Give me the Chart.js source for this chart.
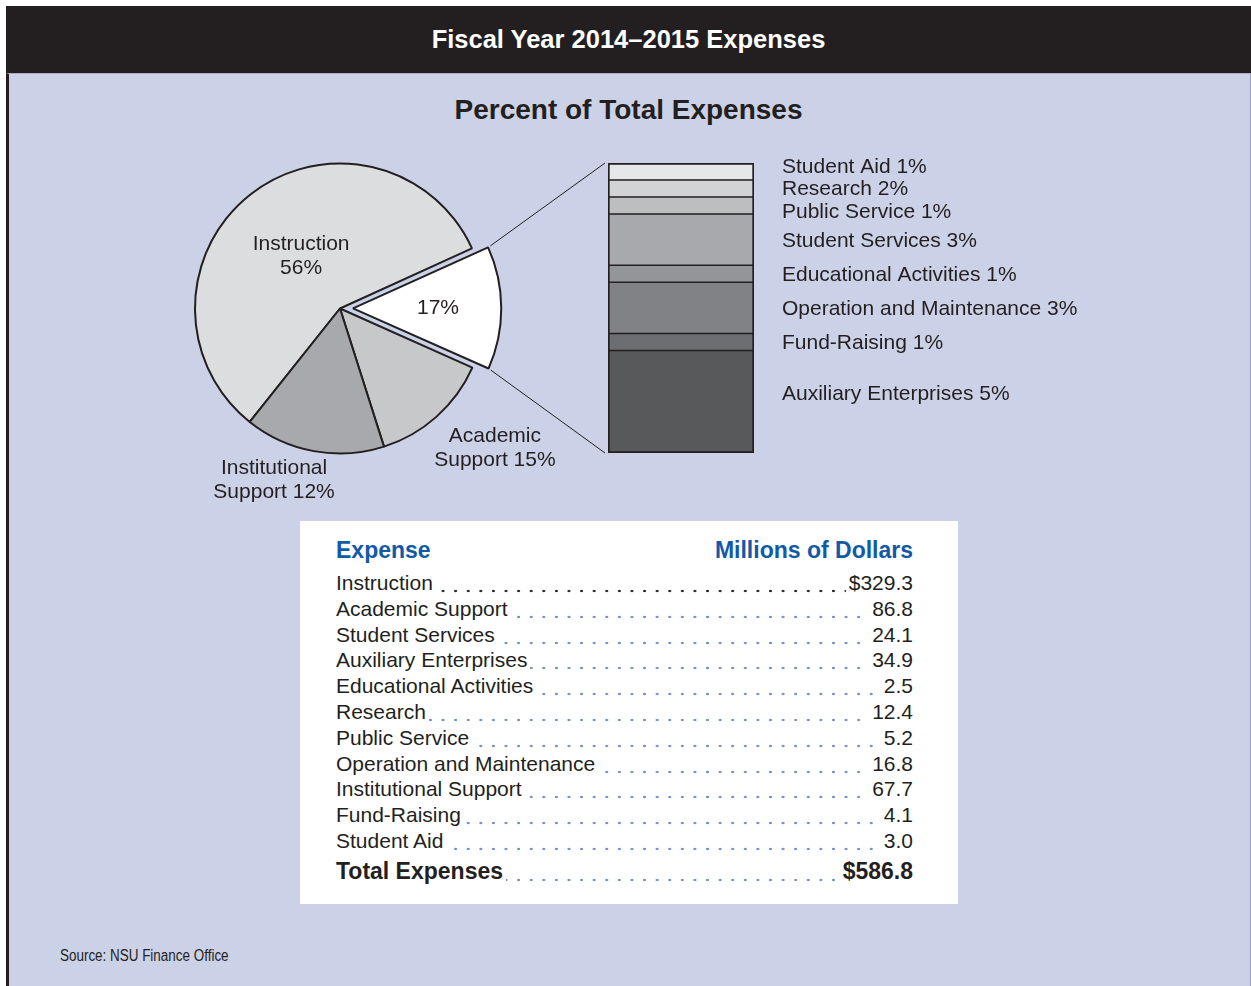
<!DOCTYPE html>
<html>
<head>
<meta charset="utf-8">
<script src="https://cdn.jsdelivr.net/npm/chart.js@4/dist/chart.umd.min.js"></script>
<style>
body{margin:0;background:#fff;font-family:"Liberation Sans",Arial,sans-serif;color:#231f20;}
#page{position:relative;width:1251px;height:986px;overflow:hidden;}
#head{position:absolute;left:6px;top:6px;width:1245px;height:67px;background:#231f20;color:#fff;font-weight:bold;font-size:25.5px;line-height:67px;text-align:center;}
#panel{position:absolute;left:6px;top:73px;width:1245px;height:913px;box-sizing:border-box;background:#cbd1e6;border-left:3px solid #231f20;border-right:1px solid #9aa0b8;border-top:1px solid #a9adc0;}
#title{position:absolute;left:0;top:94px;width:1257px;text-align:center;font-weight:bold;font-size:28px;line-height:32px;}
canvas{position:absolute;}
#pie{left:150px;top:140px;}
#stack{left:470px;top:150px;}
#table{position:absolute;left:300px;top:521px;width:658px;height:383px;background:#fff;box-sizing:border-box;padding:14px 45px 0 36px;}
.hrow{position:relative;height:30px;line-height:30px;font-weight:bold;font-size:23px;color:#1259a6;margin-bottom:5px;}
.hrow .r{position:absolute;right:0;top:0;}
.row{position:relative;height:25.8px;line-height:25.8px;font-size:21px;}
.row .lead{position:absolute;left:0;right:0;top:19px;height:4px;background-image:radial-gradient(circle,#6f8ac6 1px,rgba(255,255,255,0) 1.6px);background-size:12.6px 4px;background-repeat:repeat-x;}
.row.first .lead{background-image:radial-gradient(circle,#231f20 1px,rgba(255,255,255,0) 1.6px);}
.row .n{position:relative;background:#fff;padding-right:3px;}
.row .v{position:absolute;right:0;top:0;background:#fff;padding-left:3px;}
.row.total{height:30px;line-height:30px;margin-top:2px;font-weight:bold;font-size:23px;}
.row.total .lead{top:22px;}
#source{position:absolute;left:60px;top:946px;font-size:16px;line-height:20px;transform:scaleX(0.84);transform-origin:left center;white-space:nowrap;}
</style>
</head>
<body>
<div id="page">
  <div id="head">Fiscal Year 2014–2015 Expenses</div>
  <div id="panel"></div>
  <div id="title">Percent of Total Expenses</div>
  <canvas id="pie" width="440" height="380"></canvas>
  <canvas id="stack" width="640" height="320"></canvas>
  <div id="table"></div>
  <div id="source">Source: NSU Finance Office</div>
</div>
<script>
// pie slices, clockwise from the lower left edge of Instruction
const pieText = [["Instruction", "56%"], ["17%"], ["Academic", "Support 15%"], ["Institutional", "Support 12%"]];
// share of the circle as drawn in the picture
const pieShares = [57.5, 13.5, 13.4, 15.6];
const pieColors = ["#dcdddf", "#ffffff", "#c6c8ca", "#a7a9ac"];

// the pulled out 17%, top to bottom
const stackNames = ["Student Aid", "Research", "Public Service", "Student Services",
  "Educational Activities", "Operation and Maintenance", "Fund-Raising", "Auxiliary Enterprises"];
const stackPercents = [1, 2, 1, 3, 1, 3, 1, 5];
// segment heights as drawn (units of the smallest segment)
const stackHeights = [1, 1, 1, 3, 1, 3, 1, 6];
const stackColors = ["#e6e7e8", "#d1d3d4", "#bcbec0", "#a7a9ac", "#939598", "#808285", "#6d6e71", "#58595b"];

// table
const expenseNames = ["Instruction", "Academic Support", "Student Services", "Auxiliary Enterprises",
  "Educational Activities", "Research", "Public Service", "Operation and Maintenance",
  "Institutional Support", "Fund-Raising", "Student Aid"];
const expenseValues = ["$329.3", "86.8", "24.1", "34.9", "2.5", "12.4", "5.2", "16.8", "67.7", "4.1", "3.0"];
const totalValue = "$586.8";

const INK = "#231f20";
const FONT = '21px "Liberation Sans", Arial, sans-serif';

// where each pie label sits: turn (deg) from the slice middle, distance in radii
const pieLabelPlace = [
  { turn: 1.4, dist: 0.45 },
  { turn: 0, dist: 0.586 },
  { turn: -6.2, dist: 1.438 },
  { turn: 10.6, dist: 1.268 }
];

const pieLabels = {
  id: "pieLabels",
  afterDatasetsDraw(chart) {
    const ctx = chart.ctx;
    const arcs = chart.getDatasetMeta(0).data;
    ctx.save();
    ctx.font = FONT;
    ctx.fillStyle = INK;
    ctx.textAlign = "center";
    ctx.textBaseline = "middle";
    arcs.forEach((arc, i) => {
      const p = pieLabelPlace[i];
      const off = (arc.options.offset || 0) / 4;
      const mid = (arc.startAngle + arc.endAngle) / 2;
      const a = mid + p.turn * Math.PI / 180;
      const r = arc.outerRadius * p.dist;
      const cx = arc.x + Math.cos(mid) * off + Math.cos(a) * r;
      const cy = arc.y + Math.sin(mid) * off + Math.sin(a) * r;
      const lines = pieText[i];
      lines.forEach((t, k) => {
        ctx.fillText(t, cx, cy + (k - (lines.length - 1) / 2) * 24);
      });
    });
    ctx.restore();
  }
};

const pieChart = new Chart(document.getElementById("pie"), {
  type: "pie",
  data: {
    labels: pieText.map(t => t.join(" ")),
    datasets: [{
      data: pieShares,
      backgroundColor: pieColors,
      borderColor: INK,
      borderWidth: 2,
      offset: [0, 52, 0, 0]
    }]
  },
  options: {
    responsive: false,
    animation: false,
    events: [],
    rotation: 218.5,
    radius: 145,
    layout: { padding: { left: 0, right: 60, top: 0, bottom: 43 } },
    plugins: { legend: { display: false }, tooltip: { enabled: false } }
  },
  plugins: [pieLabels]
});

// canvas positions on the page, to join the two charts
const PIE_POS = { x: 150, y: 140 };
const STACK_POS = { x: 470, y: 150 };

const stackSide = {
  id: "stackSide",
  afterDatasetsDraw(chart) {
    const ctx = chart.ctx;
    const area = chart.chartArea;
    const n = stackNames.length;

    // leader lines from the pulled out slice to the bar
    const arc = pieChart.getDatasetMeta(0).data[1];
    const off = (arc.options.offset || 0) / 4;
    const mid = (arc.startAngle + arc.endAngle) / 2;
    const ox = arc.x + Math.cos(mid) * off + PIE_POS.x - STACK_POS.x;
    const oy = arc.y + Math.sin(mid) * off + PIE_POS.y - STACK_POS.y;
    const rr = arc.outerRadius + 6;
    ctx.save();
    ctx.strokeStyle = INK;
    ctx.lineWidth = 1;
    ctx.beginPath();
    ctx.moveTo(ox + Math.cos(arc.startAngle) * rr, oy + Math.sin(arc.startAngle) * rr);
    ctx.lineTo(area.left - 3, area.top);
    ctx.moveTo(ox + Math.cos(arc.endAngle) * rr, oy + Math.sin(arc.endAngle) * rr);
    ctx.lineTo(area.left - 3, area.bottom);
    ctx.stroke();

    // labels beside each segment, spread where they crowd
    const ys = [];
    for (let i = 0; i < n; i++) {
      const bar = chart.getDatasetMeta(n - 1 - i).data[0];
      ys.push((bar.y + bar.base) / 2);
    }
    const minGap = 22.5;
    for (let pass = 0; pass < 60; pass++) {
      for (let i = 1; i < n; i++) {
        const gap = ys[i] - ys[i - 1];
        if (gap < minGap) {
          const push = (minGap - gap) / 2;
          ys[i - 1] -= push;
          ys[i] += push;
        }
      }
    }
    // the tall bottom segment has its label raised toward the top of it
    const lastBar = chart.getDatasetMeta(0).data[0];
    ys[n - 1] = Math.min(ys[n - 1], lastBar.y + 43);

    ctx.font = FONT;
    ctx.fillStyle = INK;
    ctx.textAlign = "left";
    ctx.textBaseline = "middle";
    for (let i = 0; i < n; i++) {
      ctx.fillText(stackNames[i] + " " + stackPercents[i] + "%", area.right + 28, ys[i] + 1);
    }
    ctx.restore();
  }
};

const last = stackNames.length - 1;
const stackSets = stackNames.map((name, i) => ({
  label: name,
  data: [stackHeights[i]],
  backgroundColor: stackColors[i],
  borderColor: INK,
  borderSkipped: false,
  borderWidth: { left: 2, right: 2, top: i === 0 ? 2 : 1, bottom: i === last ? 2 : 1.2 },
  barPercentage: 1,
  categoryPercentage: 1
})).reverse();

const stackTotal = stackHeights.reduce((s, v) => s + v, 0);

new Chart(document.getElementById("stack"), {
  type: "bar",
  data: { labels: ["Other"], datasets: stackSets },
  options: {
    responsive: false,
    animation: false,
    events: [],
    layout: { padding: { left: 138, right: 356, top: 13, bottom: 17 } },
    scales: {
      x: { stacked: true, display: false },
      y: { stacked: true, display: false, min: 0, max: stackTotal }
    },
    plugins: { legend: { display: false }, tooltip: { enabled: false } }
  },
  plugins: [stackSide]
});

// expense table
const table = document.getElementById("table");
let html = '<div class="hrow"><span>Expense</span><span class="r">Millions of Dollars</span></div>';
expenseNames.forEach((name, i) => {
  html += '<div class="row' + (i === 0 ? ' first' : '') + '"><span class="lead"></span>' +
    '<span class="n">' + name + '</span><span class="v">' + expenseValues[i] + '</span></div>';
});
html += '<div class="row total"><span class="lead"></span><span class="n">Total Expenses</span>' +
  '<span class="v">' + totalValue + '</span></div>';
table.innerHTML = html;
</script>
</body>
</html>
